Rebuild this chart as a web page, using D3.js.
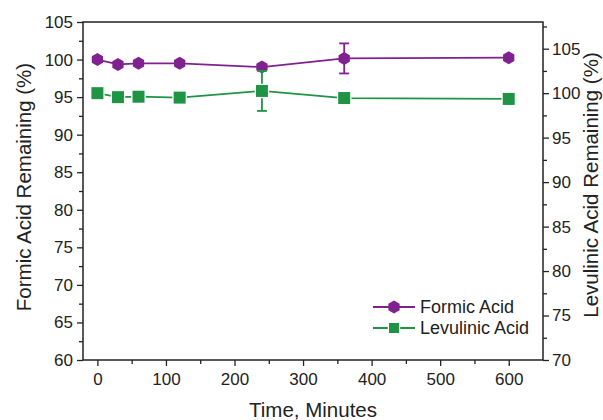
<!DOCTYPE html>
<html lang="en">
<head>
    <meta charset="UTF-8">
    <title>Formic / Levulinic Acid Remaining</title>
    <script src="https://d3js.org/d3.v7.min.js"></script>
    <style>
        body { margin: 0; background: #fff; }
        text { font-family: "Liberation Sans", Arial, sans-serif; fill: #222; }
    </style>
</head>
<body>
    <svg width="603" height="420"></svg>
    <script>
        // data
        const times = [0, 30, 60, 120, 240, 360, 600];
        const formic = [100.0, 99.35, 99.5, 99.5, 99.0, 100.15, 100.25];
        const formicErr = [0, 0, 0, 0, 0, 2.0, 0];
        const levulinic = [100.0, 99.55, 99.6, 99.5, 100.25, 99.45, 99.35];
        const levulinicErr = [0, 0, 0, 0, 2.25, 0, 0];
        const xTicks = [0, 100, 200, 300, 400, 500, 600];
        const leftTicks = [60, 65, 70, 75, 80, 85, 90, 95, 100, 105];
        const rightTicks = [70, 75, 80, 85, 90, 95, 100, 105];

        const purple = "#7f2290", green = "#1f9445";
        const m = { left: 83, right: 543, top: 22, bottom: 360 };
        const svg = d3.select("svg");

        const x = d3.scaleLinear().domain([-21, 650]).range([m.left, m.right]);
        const yL = d3.scaleLinear().domain([60, 105]).range([m.bottom, m.top]);
        const yR = d3.scaleLinear().domain([70, 108]).range([m.bottom, m.top]);

        // frame
        svg.append("rect").attr("x", m.left).attr("y", m.top)
            .attr("width", m.right - m.left).attr("height", m.bottom - m.top)
            .attr("fill", "none").attr("stroke", "#222").attr("stroke-width", 1.5);

        function styleAxis(g) {
            g.select(".domain").remove();
            g.selectAll("line").attr("stroke", "#222").attr("stroke-width", 1.3);
            g.selectAll("text").style("font-size", "17px").attr("fill", "#222");
        }

        // minor ticks
        svg.append("g").attr("transform", `translate(0,${m.bottom})`)
            .call(d3.axisBottom(x).tickValues(d3.range(50, 650, 100)).tickSize(4).tickFormat(""))
            .call(styleAxis);
        svg.append("g").attr("transform", `translate(${m.left},0)`)
            .call(d3.axisLeft(yL).tickValues(d3.range(62.5, 105, 5)).tickSize(4).tickFormat(""))
            .call(styleAxis);
        svg.append("g").attr("transform", `translate(${m.right},0)`)
            .call(d3.axisRight(yR).tickValues(d3.range(72.5, 108, 5)).tickSize(4).tickFormat(""))
            .call(styleAxis);

        // major ticks
        svg.append("g").attr("transform", `translate(0,${m.bottom})`)
            .call(d3.axisBottom(x).tickValues(xTicks).tickSize(6).tickPadding(7))
            .call(styleAxis);
        svg.append("g").attr("transform", `translate(${m.left},0)`)
            .call(d3.axisLeft(yL).tickValues(leftTicks).tickSize(6).tickPadding(4))
            .call(styleAxis);
        svg.append("g").attr("transform", `translate(${m.right},0)`)
            .call(d3.axisRight(yR).tickValues(rightTicks).tickSize(6).tickPadding(3))
            .call(styleAxis);

        // axis titles
        svg.append("text").attr("x", (m.left + m.right) / 2).attr("y", 417)
            .attr("text-anchor", "middle").style("font-size", "20.5px").text("Time, Minutes");
        svg.append("text").attr("transform", `translate(31,${(m.top + m.bottom) / 2 - 4}) rotate(-90)`)
            .attr("text-anchor", "middle").style("font-size", "20.5px").text("Formic Acid Remaining (%)");
        svg.append("text").attr("transform", `translate(598,${(m.top + m.bottom) / 2 - 6}) rotate(-90)`)
            .attr("text-anchor", "middle").style("font-size", "20.5px").text("Levulinic Acid Remaining (%)");

        const hexPath = r => {
            const pts = d3.range(6).map(i => {
                const a = Math.PI / 2 + i * Math.PI / 3;
                return [r * Math.cos(a), r * Math.sin(a)];
            });
            return "M" + pts.map(p => p.join(",")).join("L") + "Z";
        };

        function drawSeries(vals, errs, yScale, color, marker) {
            const pts = times.map((t, i) => ({ t, v: vals[i], e: errs[i] }));
            const g = svg.append("g");
            g.append("path").datum(pts)
                .attr("d", d3.line().x(d => x(d.t)).y(d => yScale(d.v)))
                .attr("fill", "none").attr("stroke", color).attr("stroke-width", 1.8);
            const eb = g.selectAll(".eb").data(pts.filter(d => d.e > 0)).enter().append("g");
            eb.append("line").attr("x1", d => x(d.t)).attr("x2", d => x(d.t))
                .attr("y1", d => yScale(d.v - d.e)).attr("y2", d => yScale(d.v + d.e))
                .attr("stroke", color).attr("stroke-width", 1.8);
            [-1, 1].forEach(s => {
                eb.append("line").attr("x1", d => x(d.t) - 5).attr("x2", d => x(d.t) + 5)
                    .attr("y1", d => yScale(d.v + s * d.e)).attr("y2", d => yScale(d.v + s * d.e))
                    .attr("stroke", color).attr("stroke-width", 1.8);
            });
            g.selectAll(".mk").data(pts).enter().append("path")
                .attr("transform", d => `translate(${x(d.t)},${yScale(d.v)})`)
                .attr("d", marker.d).attr("fill", color)
                .attr("stroke", marker.halo ? "#fff" : "none").attr("stroke-width", 2.5)
                .attr("paint-order", "stroke");
        }

        drawSeries(formic, formicErr, yL, purple, { d: hexPath(6.5), halo: false });
        drawSeries(levulinic, levulinicErr, yR, green, { d: "M-6,-6H6V6H-6Z", halo: true });

        // legend
        const legend = [
            { label: "Formic Acid", color: purple, marker: hexPath(6.5), halo: false, y: 307 },
            { label: "Levulinic Acid", color: green, marker: "M-5,-5H5V5H-5Z", halo: true, y: 328 }
        ];
        const lg = svg.append("g").selectAll("g").data(legend).enter().append("g")
            .attr("transform", d => `translate(0,${d.y})`);
        lg.append("line").attr("x1", 373).attr("x2", 415).attr("y1", 0).attr("y2", 0)
            .attr("stroke", d => d.color).attr("stroke-width", 1.8);
        lg.append("path").attr("transform", "translate(394,0)").attr("d", d => d.marker)
            .attr("fill", d => d.color).attr("stroke", d => d.halo ? "#fff" : "none")
            .attr("stroke-width", 2.5).attr("paint-order", "stroke");
        lg.append("text").attr("x", 420).attr("y", 0).attr("dy", "0.35em")
            .style("font-size", "18px").text(d => d.label);
    </script>
</body>
</html>
